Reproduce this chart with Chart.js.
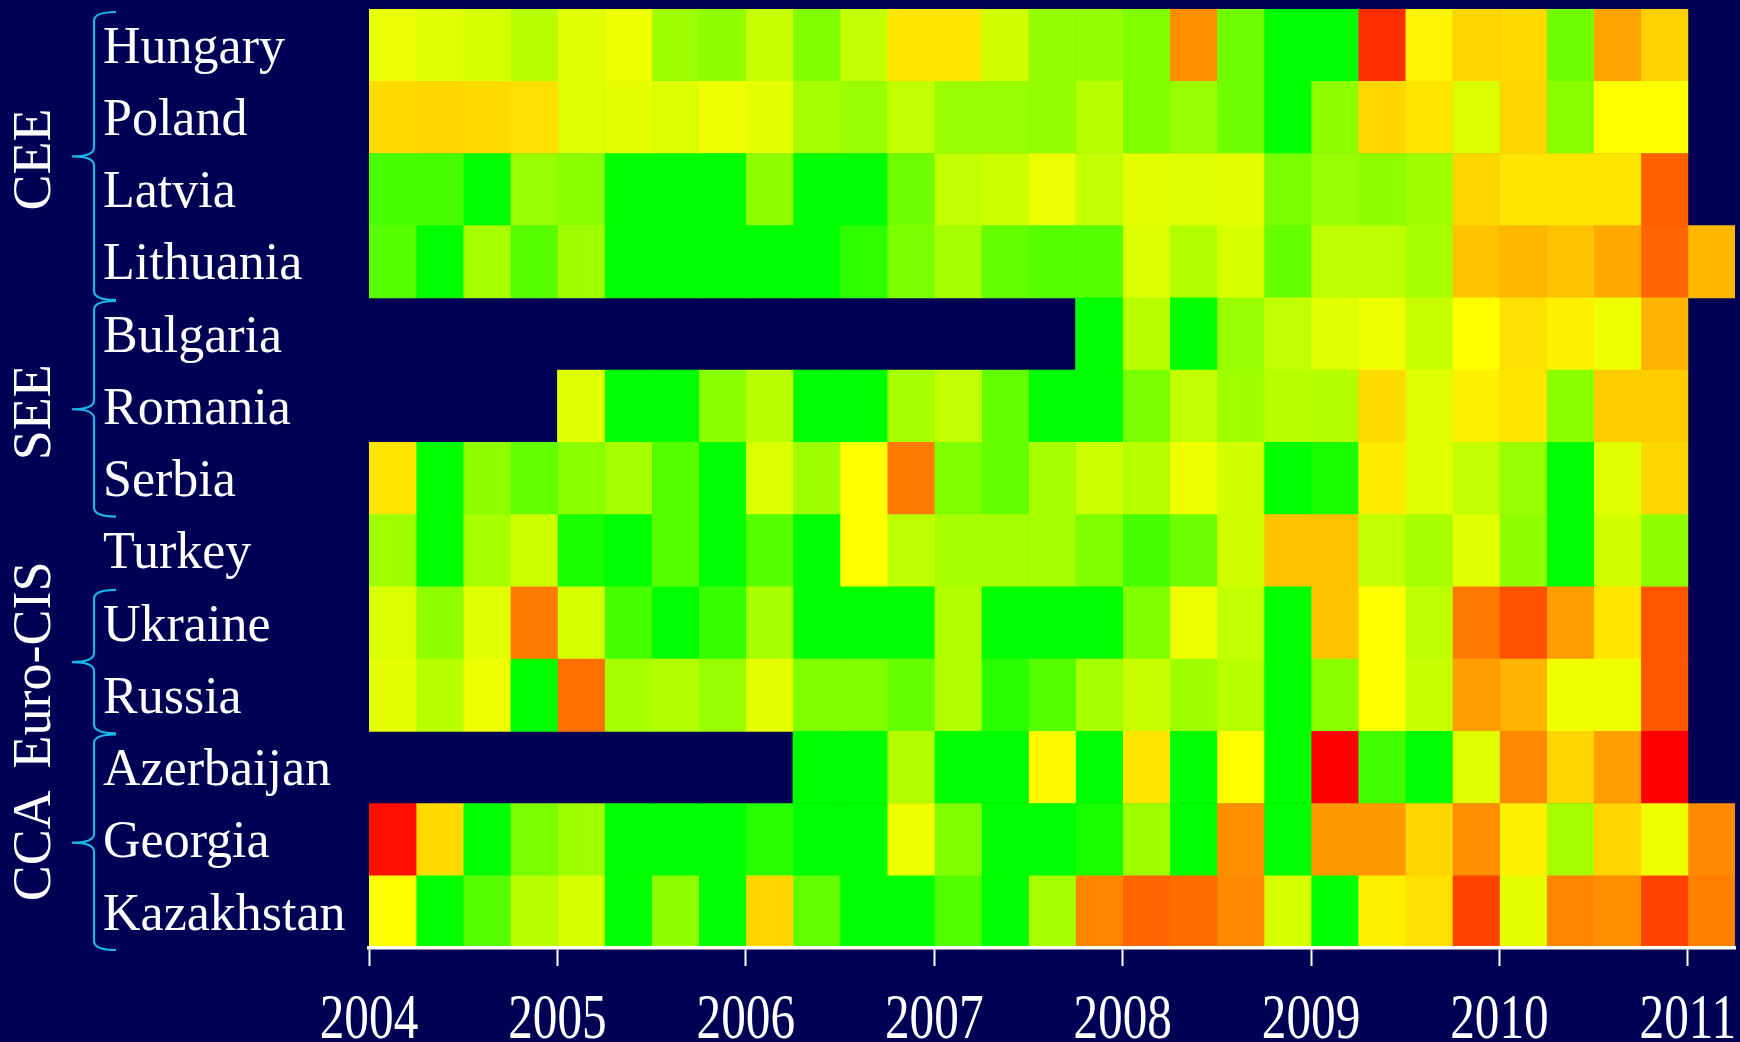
<!DOCTYPE html>
<html>
<head>
<meta charset="utf-8">
<script src="https://cdn.jsdelivr.net/npm/chart.js@4/dist/chart.umd.min.js"></script>
<style>
  html, body { margin: 0; padding: 0; background: #000055; }
  #wrap { width: 1740px; height: 1042px; }
</style>
</head>
<body>
<div id="wrap"><canvas id="heat" width="1740" height="1042"></canvas></div>
<script>
// Quarterly periods, 2004Q1 .. 2011Q1
const quarters = [
  '2004Q1','2004Q2','2004Q3','2004Q4','2005Q1','2005Q2','2005Q3','2005Q4',
  '2006Q1','2006Q2','2006Q3','2006Q4','2007Q1','2007Q2','2007Q3','2007Q4',
  '2008Q1','2008Q2','2008Q3','2008Q4','2009Q1','2009Q2','2009Q3','2009Q4',
  '2010Q1','2010Q2','2010Q3','2010Q4','2011Q1'
];
const yearTicks = [2004, 2005, 2006, 2007, 2008, 2009, 2010, 2011];

const countries = ['Hungary','Poland','Latvia','Lithuania','Bulgaria','Romania','Serbia',
                   'Turkey','Ukraine','Russia','Azerbaijan','Georgia','Kazakhstan'];

// Index per quarter: 0 = green, 50 = yellow, 100 = red; null = no data
const hungary    = [46,44,42,36,44,47,31,28,39,25,38,55,55,41,29,29,25,72,22,0,0,91,52,58,57,22,68,59,null];
const poland     = [57,58,57,56,44,45,43,47,45,33,30,38,30,30,29,36,25,30,22,0,28,58,55,43,58,27,50,50,null];
const latvia     = [14,14,0,30,27,0,0,0,28,0,0,22,38,40,46,38,45,44,45,24,30,28,31,58,55,55,55,81,null];
const lithuania  = [17,0,33,17,31,0,0,0,0,0,9,24,33,20,17,17,43,35,42,20,37,37,33,62,64,62,67,80,64];
const bulgaria   = [null,null,null,null,null,null,null,null,null,null,null,null,null,null,null,0,36,0,30,38,44,47,39,50,56,53,47,65,null];
const romania    = [null,null,null,null,44,0,0,27,36,0,0,33,38,20,0,0,24,38,31,36,35,57,44,53,55,27,60,60,null];
const serbia     = [55,0,28,19,27,33,17,0,43,31,50,76,25,20,33,40,36,47,41,0,5,54,44,38,30,0,44,58,null];
const turkey     = [31,0,33,40,5,0,17,0,17,0,50,37,33,33,33,25,14,22,41,62,62,38,33,44,28,0,41,28,null];
const ukraine    = [43,28,44,76,42,14,0,11,33,0,0,0,35,0,0,0,25,47,38,0,62,50,37,76,84,69,55,83,null];
const russia     = [45,36,47,0,78,33,35,30,45,25,25,20,35,8,17,33,39,31,36,0,27,50,39,69,65,47,47,83,null];
const azerbaijan = [null,null,null,null,null,null,null,null,null,0,0,35,0,0,51,0,55,0,50,0,100,13,0,44,73,58,69,100,null];
const georgia    = [97,57,0,24,31,0,0,0,8,0,0,47,25,0,0,5,31,0,72,0,70,70,58,72,53,33,58,47,73];
const kazakhstan = [50,0,17,36,42,0,28,0,58,19,0,0,16,0,33,74,80,79,73,42,0,53,56,87,45,74,72,87,75];

const rows = [hungary, poland, latvia, lithuania, bulgaria, romania, serbia,
              turkey, ukraine, russia, azerbaijan, georgia, kazakhstan];

// Regional groups (first and last row index)
const groupNames = ['CEE', 'SEE', 'Euro-CIS', 'CCA'];
const groupFirst = [0, 4, 8, 10];
const groupLast  = [3, 6, 9, 12];

const NAVY = '#000055';
const BRACE = '#1cb5e6';

// green -> yellow -> red ramp
function ramp(v) {
  let r, g;
  if (v <= 50) { r = Math.round(255 * v / 50); g = 255; }
  else { r = 255; g = Math.round(255 * (100 - v) / 50); }
  return 'rgb(' + r + ',' + g + ',0)';
}

function quarterStart(i) {
  const y = parseInt(quarters[i].slice(0, 4), 10);
  const q = parseInt(quarters[i].slice(5), 10);
  return y + (q - 1) / 4;
}

const datasets = quarters.map((label, qi) => ({
  label: label,
  data: rows.map(r => r[qi] === null ? null : [quarterStart(qi), quarterStart(qi) + 0.25]),
  backgroundColor: ctx => {
    const v = rows[ctx.dataIndex][qi];
    return v === null ? 'rgba(0,0,0,0)' : ramp(v);
  },
  borderWidth: 0,
  grouped: false,
  barPercentage: 1,
  categoryPercentage: 1
}));

const decor = {
  id: 'decor',
  beforeDraw(chart) {
    const c = chart.ctx;
    c.save();
    c.fillStyle = NAVY;
    c.fillRect(0, 0, chart.width, chart.height);
    c.restore();
  },
  afterDraw(chart) {
    const c = chart.ctx;
    const xs = chart.scales.x;
    const ys = chart.scales.y;
    const half = (ys.getPixelForValue(1) - ys.getPixelForValue(0)) / 2;

    // year labels under the axis (narrow serif)
    c.save();
    c.fillStyle = '#ffffff';
    c.font = '64px "Liberation Serif", "DejaVu Serif", serif';
    c.textAlign = 'center';
    c.textBaseline = 'alphabetic';
    yearTicks.forEach(yr => {
      const x = xs.getPixelForValue(yr);
      c.save();
      c.translate(x, 1038);
      c.scale(0.77, 1);
      c.fillText(String(yr), 0, 0);
      c.restore();
    });
    c.restore();

    // region braces and rotated group names
    groupNames.forEach((name, gi) => {
      const top = ys.getPixelForValue(groupFirst[gi]) - half;
      const bot = ys.getPixelForValue(groupLast[gi]) + half;
      const mid = (top + bot) / 2 + 3;
      const t = top + 3, b = bot + 2;
      const xv = 94, xt = 72, xh = 116;

      c.save();
      c.strokeStyle = BRACE;
      c.lineWidth = 2.2;
      c.beginPath();
      c.moveTo(xh, t);
      c.quadraticCurveTo(xv, t, xv, t + 9);
      c.lineTo(xv, mid - 9);
      c.quadraticCurveTo(xv, mid, xt, mid);
      c.quadraticCurveTo(xv, mid, xv, mid + 9);
      c.lineTo(xv, b - 9);
      c.quadraticCurveTo(xv, b, xh, b);
      c.stroke();
      c.restore();

      c.save();
      c.fillStyle = '#ffffff';
      c.font = '54px "Liberation Serif", "DejaVu Serif", serif';
      c.textAlign = 'center';
      c.textBaseline = 'alphabetic';
      c.translate(50, mid + 3);
      c.rotate(-Math.PI / 2);
      c.fillText(name, 0, 0);
      c.restore();
    });
  }
};

new Chart(document.getElementById('heat'), {
  type: 'bar',
  data: { labels: countries, datasets: datasets },
  plugins: [decor],
  options: {
    indexAxis: 'y',
    responsive: false,
    animation: false,
    devicePixelRatio: 1,
    layout: { padding: { left: 103, right: 5, top: 9, bottom: 0 } },
    plugins: { legend: { display: false }, tooltip: { enabled: false } },
    scales: {
      x: {
        type: 'linear',
        min: 2004,
        max: 2011.25,
        afterBuildTicks: s => { s.ticks = yearTicks.map(v => ({ value: v })); },
        afterFit: s => { s.height = 94; s.paddingLeft = 0; s.paddingRight = 0; },
        ticks: { display: false },
        grid: { drawOnChartArea: false, drawTicks: true, tickLength: 18, tickWidth: 2, tickColor: '#ffffff' },
        border: { display: true, color: '#ffffff', width: 3.5, z: 1 }
      },
      y: {
        type: 'category',
        position: 'left',
        afterFit: s => { s.width = 266; s.paddingTop = 0; s.paddingBottom = 0; },
        ticks: {
          color: '#ffffff',
          font: { family: '"Liberation Serif", "DejaVu Serif", serif', size: 52 },
          crossAlign: 'far',
          padding: 0,
          labelOffset: 4,
          autoSkip: false
        },
        grid: { display: false },
        border: { display: false }
      }
    }
  }
});
</script>
</body>
</html>
